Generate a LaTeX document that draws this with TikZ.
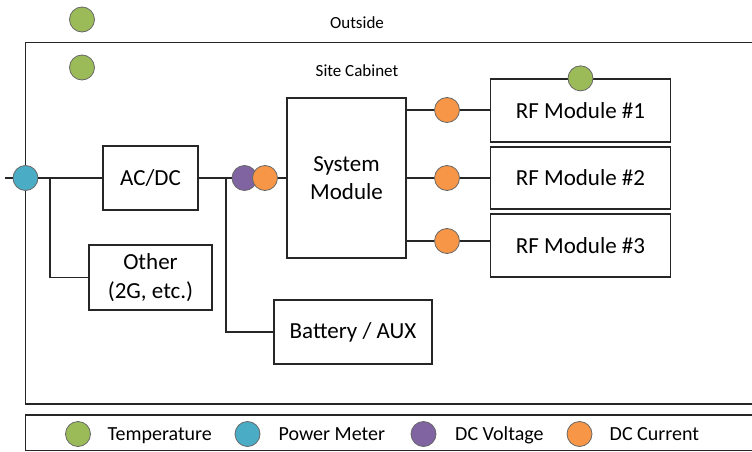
\documentclass[tikz,border=0pt]{standalone}
\usepackage{fontspec}
\setmainfont{Carlito}
\usetikzlibrary{calc}
\definecolor{tempgreen}{HTML}{9BBB59}
\definecolor{meterblue}{HTML}{4BACC6}
\definecolor{voltpurple}{HTML}{8064A2}
\definecolor{curorange}{HTML}{F79646}

\begin{document}
\begin{tikzpicture}[x=1pt,y=-1pt,font=\fontsize{23}{28.5}\selectfont,
  box/.style={draw=black!85,line width=1.3pt,align=center,inner sep=2pt,fill=white},
  dot/.style={circle,draw=black!60,line width=0.8pt,minimum size=25pt,inner sep=0pt},
  wire/.style={line width=1.3pt,black!85},
  small/.style={font=\fontsize{17}{20}\selectfont,anchor=base},
  key/.style={font=\fontsize{20}{22}\selectfont,anchor=base west,inner sep=0pt}]
\useasboundingbox (0,0) rectangle (752,452);
% frames run off the right edge
\draw[wire] (760,42.5) -- (25.5,42.5) -- (25.5,404) -- (760,404);
\draw[wire] (760,415) -- (25.5,415) -- (25.5,450.5) -- (760,450.5);
\node[small] (outside) at (357,28.3) {Outside};
\node[small] (cabinet) at (357,76.2) {Site Cabinet};
\node[dot,fill=tempgreen] (tout) at (82,19.5) {};
\node[dot,fill=tempgreen] (tin)  at (82,67.5) {};
% boxes
\node[box,minimum width=95pt,minimum height=64pt]  (acdc)   at (150.5,178)   {AC/DC};
\node[box,minimum width=123pt,minimum height=65pt] (other)  at (150.5,277.5) {Other\\(2G, etc.)};
\node[box,minimum width=158pt,minimum height=64pt] (batt)   at (353,332)     {Battery / AUX};
\node[box,minimum width=119pt,minimum height=160pt](sysmod) at (346.5,178)   {System\\Module};
\node[box,minimum width=180pt,minimum height=63pt] (rf1)    at (580.5,110.5) {RF Module \#1};
\node[box,minimum width=180pt,minimum height=62pt] (rf2)    at (580.5,178)   {RF Module \#2};
\node[box,minimum width=180pt,minimum height=63pt] (rf3)    at (580.5,245.5) {RF Module \#3};
% sensors
\node[dot,fill=meterblue]  (pm)  at (25.5,178) {};
\node[dot,fill=voltpurple] (dcv) at (244.5,178) {};
\node[dot,fill=curorange]  (dci) at (265,178) {};
\node[dot,fill=curorange]  (c1)  at (447,110) {};
\node[dot,fill=curorange]  (c2)  at (447,178) {};
\node[dot,fill=curorange]  (c3)  at (447,241) {};
\node[dot,fill=tempgreen]  (trf) at (rf1.north) {};
% wiring
\coordinate (feed) at (5,178);
\coordinate (j1) at (50,178);
\coordinate (j2) at (226,178);
\draw[wire] (feed) -- (pm);
\draw[wire] (pm) -- (acdc);
\draw[wire] (j1) |- (other);
\draw[wire] (acdc) -- (dcv);
\draw[wire] (j2) |- (batt);
\draw[wire] (dci) -- (sysmod);
\draw[wire] (sysmod.east |- c1) -- (c1);  \draw[wire] (c1) -- (c1 -| rf1.west);
\draw[wire] (sysmod.east |- c2) -- (c2);  \draw[wire] (c2) -- (c2 -| rf2.west);
\draw[wire] (sysmod.east |- c3) -- (c3);  \draw[wire] (c3) -- (c3 -| rf3.west);
% legend
\node[dot,fill=tempgreen]  (ktemp) at (78,434) {};
\node[key] (ltemp) at (107.5,440) {Temperature};
\node[dot,fill=meterblue]  (kpm)   at (247.5,434) {};
\node[key] (lpm)   at (278.5,440) {Power Meter};
\node[dot,fill=voltpurple] (kdcv)  at (423.5,434) {};
\node[key] (ldcv)  at (455,440) {DC Voltage};
\node[dot,fill=curorange]  (kdci)  at (579.5,434) {};
\node[key] (ldci)  at (609.5,440) {DC Current};
\end{tikzpicture}
\end{document}
